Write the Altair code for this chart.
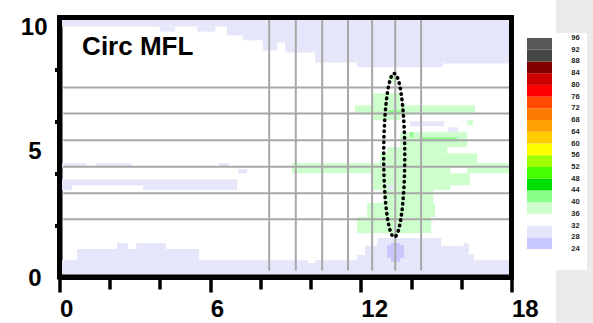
import altair as alt
import numpy as np
import pandas as pd

FONT = "Liberation Sans"

# ---------------- heatmap cells (x0, x1, y0, y1, level) ----------------
cell_x0 = [0, 9.9, 10.18, 0.7, 2.29, 3.05, 11.85, 12.17, 12.65, 15.2, 16.1, 16.3,
           13.05, 13.2,
           0, 4.0, 5.48, 6.67, 7.31, 8.1, 8.67, 8.98, 10.18, 11.85, 15.28,
           0.1, 1.45, 6.35, 7.11, 0.1, 0.1, 3.33,
           13.09, 12.45, 11.77, 16.24, 13.57, 13.05, 12.77, 9.26, 9.26, 16.24,
           12.49, 12.49, 12.89, 12.25, 11.85,
           13.09, 13.96, 14.36,
           13.96, 15.48, 13.09]
cell_x1 = [9.9, 10.18, 18, 5.56, 2.73, 4.24, 12.17, 12.65, 15.2, 16.1, 16.3, 16.5,
           13.72, 13.56,
           6.67, 4.6, 6.2, 7.31, 8.1, 8.67, 8.98, 10.18, 11.85, 15.28, 18,
           1.06, 2.89, 6.75, 7.47, 7.07, 0.5, 7.07,
           13.37, 13.57, 16.55, 16.47, 16.24, 15.44, 16.63, 17.9, 15.56, 17.9,
           16.35, 15.56, 14.88, 14.96, 14.8,
           13.65, 14.08, 15.84,
           15.32, 15.88, 13.29]
cell_y0 = [0, 0, 0, 0.65, 1.08, 1.08, 0.65, 0.65, 0.65, 0.65, 0.65, 0.65,
           0.73, 0.58,
           9.65, 9.46, 9.46, 9.31, 9.12, 8.73, 9.04, 8.65, 8.27, 8.08, 8.23,
           4.23, 4.23, 4.23, 4.0, 3.54, 3.35, 3.35,
           7.5, 6.04, 6.31, 5.85, 5.0, 4.77, 4.38, 4.23, 4.0, 4.0,
           3.54, 3.35, 2.85, 2.31, 1.69,
           6.31, 5.38, 5.23,
           5.81, 5.58, 3.35]
cell_y1 = [0.65, 0.54, 0.65, 1.08, 1.31, 1.31, 0.85, 1.2, 1.5, 1.2, 1.3, 0.88,
           1.23, 1.31,
           10, 9.65, 9.65, 10, 10, 10, 10, 10, 10, 10, 10,
           4.38, 4.38, 4.38, 4.15, 3.77, 3.54, 3.54,
           7.77, 7.08, 6.62, 6.04, 5.58, 5.0, 4.77, 4.38, 4.23, 4.23,
           4.0, 3.54, 3.35, 2.85, 2.31,
           6.42, 5.58, 5.38,
           6.0, 5.77, 3.54]
cell_level = [30] * 12 + [26, 26] + [30] * 11 + [30] * 7 + [38] * 15 + [42] * 3 + [30] * 3

# ---------------- grid lines ----------------
hgrid_y = [7.3, 6.3, 5.27, 4.25, 3.23, 2.23]
vgrid_x = [8.35, 9.41, 10.46, 11.49, 12.45, 13.37, 14.4]

# ---------------- dotted ellipse (centre, radii) ----------------
ell_cx, ell_cy, ell_rx, ell_ry = 13.33, 4.69, 0.42, 3.15

# ---------------- colour scale / legend ----------------
thresholds = [28, 32, 36, 40, 44, 48, 52, 56, 60, 64, 68, 72, 76, 80, 84, 88, 92]
colors = ["#C8C8FF", "#E6E6FA", "#FFFFFF", "#CCFFCC", "#88FF88", "#00DD00",
          "#44FF00", "#A0FF00", "#FFFF00", "#FFCC00", "#FFA000", "#FF7A00",
          "#FF4A00", "#FF0000", "#CC0000", "#800000", "#464646", "#575757"]
legend_labels = [24, 28, 32, 36, 40, 44, 48, 52, 56, 60, 64, 68, 72, 76, 80, 84, 88, 92, 96]

x_ticks = list(range(0, 19, 2))
y_ticks = [0, 2, 4, 5, 6, 8, 10]

title_text = "Circ MFL"

# ---------------- data frames ----------------
cells = pd.DataFrame({"x0": cell_x0, "x1": cell_x1, "y0": cell_y0,
                      "y1": cell_y1, "v": cell_level})
hg = pd.DataFrame({"y": hgrid_y, "xa": 0.15, "xb": 18})
vg = pd.DataFrame({"x": vgrid_x, "ya": 0.25, "yb": 10})
t = np.linspace(0, 2 * np.pi, 241)
ell = pd.DataFrame({"x": ell_cx + ell_rx * np.sin(t),
                    "y": ell_cy + ell_ry * np.cos(t), "i": np.arange(len(t))})
ttl = pd.DataFrame({"x": [0.9], "y": [8.54], "text": [title_text]})
frame = pd.DataFrame({"x0": [0], "x1": [18], "y0": [0], "y1": [10]})
sw = pd.DataFrame({"lo": legend_labels[:-1], "hi": legend_labels[1:]})
sw["mid"] = sw["lo"] + 2
lab = pd.DataFrame({"v": legend_labels})
one = pd.DataFrame({"a": [0]})

cscale = alt.Scale(type="threshold", domain=thresholds, range=colors)
xs = alt.Scale(domain=[0, 18], nice=False, zero=False)
ys = alt.Scale(domain=[0, 10], nice=False, zero=False)

x_axis = alt.Axis(
    values=x_ticks, title=None, grid=False,
    labelExpr="datum.value % 6 === 0 ? datum.label : ''",
    labelAlign="left", labelFlush=False, labelOverlap=False, labelBound=False,
    labelFont=FONT, labelFontSize=24, labelFontWeight="bold", labelColor="black",
    labelPadding=5,
    tickSize={"condition": {"test": "datum.value % 6 === 0", "value": 15}, "value": 12},
    tickWidth=3.5, tickColor="black", domainColor="black", domainWidth=5,
)
y_axis = alt.Axis(
    values=y_ticks, title=None, grid=False,
    labelExpr="datum.value % 5 === 0 ? datum.label : ''",
    labelFlush=False, labelOverlap=False, labelBound=False,
    labelFont=FONT, labelFontSize=24, labelFontWeight="bold", labelColor="black",
    labelPadding={"condition": {"test": "datum.value === 10", "value": 7.5}, "value": 13.5},
    labelOffset={"condition": [{"test": "datum.value === 10", "value": 10},
                               {"test": "datum.value === 5", "value": 4}], "value": 1},
    tickSize=5, tickWidth=4, tickColor="black",
    tickOpacity={"condition": {"test": "datum.value % 5 === 0", "value": 0}, "value": 1},
    domainColor="black", domainWidth=5,
)

heat = alt.Chart(cells).mark_rect(strokeWidth=0).encode(
    x=alt.X("x0:Q", scale=xs, axis=x_axis), x2="x1",
    y=alt.Y("y0:Q", scale=ys, axis=y_axis), y2="y1",
    color=alt.Color("v:Q", scale=cscale, legend=None),
)
hgrid = alt.Chart(hg).mark_rule(color="#A8A8A8", strokeWidth=2).encode(
    x=alt.X("xa:Q", scale=xs, axis=x_axis), x2="xb",
    y=alt.Y("y:Q", scale=ys, axis=y_axis),
)
vgrid = alt.Chart(vg).mark_rule(color="#A8A8A8", strokeWidth=2).encode(
    x=alt.X("x:Q", scale=xs, axis=x_axis),
    y=alt.Y("ya:Q", scale=ys, axis=y_axis), y2="yb",
)
ellipse = alt.Chart(ell).mark_line(color="black", strokeWidth=3.6, strokeCap="round",
                                   strokeDash=[0.5, 5]).encode(
    x=alt.X("x:Q", scale=xs, axis=x_axis),
    y=alt.Y("y:Q", scale=ys, axis=y_axis),
    order="i:Q",
)
title = alt.Chart(ttl).mark_text(font=FONT, fontSize=26, fontWeight="bold",
                                 align="left", baseline="alphabetic", color="black").encode(
    x=alt.X("x:Q", scale=xs, axis=x_axis),
    y=alt.Y("y:Q", scale=ys, axis=y_axis),
    text="text:N",
)
border = alt.Chart(frame).mark_rect(fillOpacity=0, stroke="black", strokeWidth=5).encode(
    x=alt.X("x0:Q", scale=xs, axis=x_axis), x2="x1",
    y=alt.Y("y0:Q", scale=ys, axis=y_axis), y2="y1",
)
main = alt.layer(heat, hgrid, vgrid, ellipse, title, border)

lys = alt.Scale(domain=[24, 96], range=[231.5, 20.5], nice=False, zero=False)
gray = alt.Chart(one).mark_rect(color="#EBEBEB").encode(
    x=alt.value(496.5), x2=alt.value(534), y=alt.value(-18), y2=alt.value(306))
panel = alt.Chart(one).mark_rect(color="white").encode(
    x=alt.value(480), x2=alt.value(527.5), y=alt.value(15.5), y2=alt.value(252.5))
swatch = alt.Chart(sw).mark_rect(strokeWidth=0).encode(
    x=alt.value(467.5), x2=alt.value(492.5),
    y=alt.Y("lo:Q", scale=lys, axis=None), y2="hi",
    color=alt.Color("mid:Q", scale=cscale, legend=None),
)
labels = alt.Chart(lab).mark_text(font=FONT, fontSize=7.5, fontWeight="bold",
                                  color="#222222", align="center", baseline="middle").encode(
    x=alt.value(516), y=alt.Y("v:Q", scale=lys, axis=None), text="v:Q")
legend = alt.layer(gray, panel, swatch, labels)

chart = alt.layer(main, legend).resolve_scale(y="independent").properties(
    width=452, height=259.5,
    padding={"left": 59.5, "top": 17.5, "right": 81.5, "bottom": 46},
    autosize=alt.AutoSizeParams(type="none"),
    background="white",
).configure_view(strokeWidth=0)

chart.save("out.html", embed_options={"renderer": "svg", "actions": False})
